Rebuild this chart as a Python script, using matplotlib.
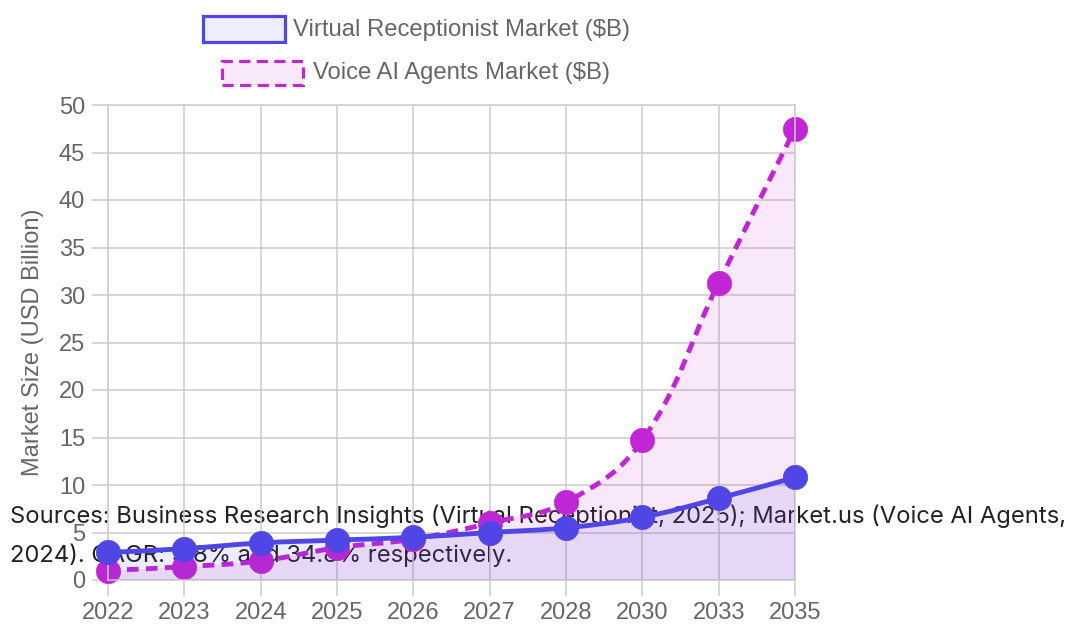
import matplotlib
matplotlib.use('Agg')
import matplotlib.pyplot as plt
from matplotlib.path import Path
from matplotlib.patches import PathPatch, Rectangle
import numpy as np

# ---------------- data ----------------
years = ['2022', '2023', '2024', '2025', '2026', '2027', '2028', '2030', '2033', '2035']
virtual_receptionist = [2.9, 3.3, 3.9, 4.2, 4.5, 5.0, 5.5, 6.6, 8.6, 10.8]
voice_ai_agents = [1.0, 1.4, 2.0, 3.4, 4.3, 6.0, 8.2, 14.7, 31.3, 47.5]
y_ticks = [0, 5, 10, 15, 20, 25, 30, 35, 40, 45, 50]
series_labels = ['Virtual Receptionist Market ($B)', 'Voice AI Agents Market ($B)']
y_title = 'Market Size (USD Billion)'
caption_lines = [
    'Sources: Business Research Insights (Virtual Receptionist, 2025); Market.us (Voice AI Agents,',
    '2024). CAGR: 9.8% and 34.8% respectively.',
]

# ---------------- style ----------------
BLUE = '#4f46e5'
PURPLE = '#c026d3'
GRID = '#cccccc'
TICK = '#666666'
FONT = 'Liberation Sans'

W, H = 1072, 628
fig = plt.figure(figsize=(W / 100, H / 100), dpi=100)
L, R, T, B = 108, 795, 105, 580
ax = fig.add_axes([L / W, 1 - B / H, (R - L) / W, (B - T) / H])
ax.patch.set_visible(False)

x = np.arange(len(years))
ax.set_xlim(0, len(years) - 1)
ax.set_ylim(y_ticks[0], y_ticks[-1])
sx = (R - L) / (len(years) - 1)
sy = (B - T) / (y_ticks[-1] - y_ticks[0])


def spline(xs, ys, t=0.4):
    pts = np.column_stack([xs, ys]).astype(float)
    n = len(pts)
    cps = []
    for i in range(n):
        prev = pts[max(i - 1, 0)]
        cur = pts[i]
        nxt = pts[min(i + 1, n - 1)]
        d01 = np.hypot((cur[0] - prev[0]) * sx, (cur[1] - prev[1]) * sy)
        d12 = np.hypot((nxt[0] - cur[0]) * sx, (nxt[1] - cur[1]) * sy)
        tot = d01 + d12
        s01 = d01 / tot if tot else 0
        s12 = d12 / tot if tot else 0
        cps.append((cur - t * s01 * (nxt - prev), cur + t * s12 * (nxt - prev)))
    verts = [tuple(pts[0])]
    codes = [Path.MOVETO]
    for i in range(n - 1):
        verts += [tuple(cps[i][1]), tuple(cps[i + 1][0]), tuple(pts[i + 1])]
        codes += [Path.CURVE4] * 3
    return verts, codes


def draw_series(vals, color, dashed, z):
    verts, codes = spline(x, vals)
    fverts = verts + [(x[-1], 0), (x[0], 0), verts[0]]
    fcodes = codes + [Path.LINETO, Path.LINETO, Path.CLOSEPOLY]
    ax.add_patch(PathPatch(Path(fverts, fcodes), facecolor=color, alpha=0.1,
                           edgecolor='none', zorder=z))
    ls = (0, (2.4, 1.5)) if dashed else '-'
    ax.add_patch(PathPatch(Path(verts, codes), facecolor='none', edgecolor=color,
                           lw=3.5, linestyle=ls, capstyle='butt', zorder=z + 0.1))
    ax.plot(x, vals, 'o', color=color, ms=17.5, mec=color, mew=0.5,
            clip_on=False, zorder=z + 0.2)


draw_series(voice_ai_agents, PURPLE, True, 2)
draw_series(virtual_receptionist, BLUE, False, 3)

ax.set_xticks(x)
ax.set_xticklabels(years)
ax.set_yticks(y_ticks)
ax.set_yticklabels([str(v) for v in y_ticks])
ax.grid(True, color=GRID, lw=1.1)
ax.set_axisbelow(True)
ax.tick_params(axis='both', length=11.5, width=1.1, color=GRID, labelcolor=TICK,
               labelsize=17)
ax.tick_params(axis='y', pad=5)
ax.tick_params(axis='x', pad=4)
for lab in ax.get_xticklabels() + ax.get_yticklabels():
    lab.set_fontfamily(FONT)
for s in ax.spines.values():
    s.set_color(GRID)
    s.set_linewidth(1.1)

fig.text(33 / W, 1 - 342 / H, y_title, rotation=90, ha='center', va='center',
         fontsize=17, color=TICK, family=FONT)

# ---------------- legend ----------------
def px_rect(x0, y0, x1, y1, **kw):
    r = Rectangle((x0 / W, 1 - y1 / H), (x1 - x0) / W, (y1 - y0) / H,
                  transform=fig.transFigure, **kw)
    fig.add_artist(r)

px_rect(202.5, 16.5, 284.5, 41.5, facecolor='#eeedfc', edgecolor=BLUE, lw=2.3)
fig.text(293 / W, 1 - 30 / H, series_labels[0], ha='left', va='center',
         fontsize=17.2, color=TICK, family=FONT)
px_rect(221.5, 60.5, 302.5, 84.5, facecolor='#f9e9fb', edgecolor=PURPLE, lw=2.3,
        linestyle=(0, (3.5, 2.0)))
fig.text(313 / W, 1 - 73 / H, series_labels[1], ha='left', va='center',
         fontsize=17.2, color=TICK, family=FONT)

# ---------------- caption (drawn beneath the chart) ----------------
c1 = fig.text(10 / W, 1 - 523 / H, caption_lines[0], ha='left', va='baseline',
              fontsize=16, color='#222222', family='Inter', zorder=-5)
fig.canvas.draw()
w = c1.get_window_extent(fig.canvas.get_renderer()).width
fs = 16 * (1058 / w)
c1.set_fontsize(fs)
fig.text(10 / W, 1 - 562 / H, caption_lines[1], ha='left', va='baseline',
         fontsize=fs, color='#222222', family='Inter', zorder=-5)

fig.savefig('out.png', dpi=100)
